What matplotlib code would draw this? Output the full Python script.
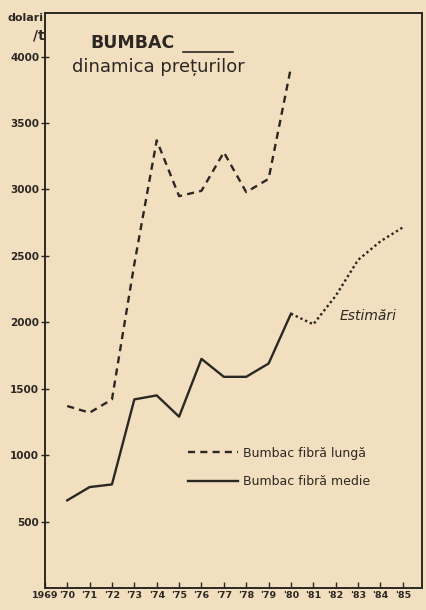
# -*- coding: utf-8 -*-
"""
Bumbac - dinamica preturilor (recreated chart)
"""
import numpy as np
import matplotlib.pyplot as plt

###############################################################################
# data:

years = np.arange(1969, 1986)
year_labels = ['1969'] + ["'%02d" % (y % 100) for y in years[1:]]

years_long = [1970, 1971, 1972, 1973, 1974, 1975, 1976, 1977, 1978, 1979, 1980]
price_long = [1370, 1320, 1420, 2440, 3370, 2950, 2990, 3280, 2980, 3080, 3920]

years_medium = [1970, 1971, 1972, 1973, 1974, 1975, 1976, 1977, 1978, 1979, 1980]
price_medium = [660, 760, 780, 1420, 1450, 1290, 1725, 1590, 1590, 1690, 2065]

years_estimate = [1980, 1981, 1982, 1983, 1984, 1985]
price_estimate = [2065, 1985, 2200, 2470, 2610, 2715]

y_ticks = [500, 1000, 1500, 2000, 2500, 3000, 3500, 4000]

###############################################################################
# style:

paper = '#f2dfc0'
ink = '#2b2722'

fig = plt.figure(figsize=(4.27, 6.10), dpi=100, facecolor=paper)
ax = fig.add_axes([0.105, 0.036, 0.883, 0.943])
ax.set_facecolor(paper)

###############################################################################
# plot:

ax.plot(years_long, price_long, color=ink, lw=1.7, ls=(0, (3.0, 2.2)),
        label='Bumbac fibră lungă')
ax.plot(years_medium, price_medium, color=ink, lw=1.7, ls='-',
        label='Bumbac fibră medie')
ax.plot(years_estimate, price_estimate, color=ink, lw=1.7, ls=(0, (1.0, 1.2)))

ax.set_xlim(1969, 1985.85)
ax.set_ylim(0, 4330)

for s in ax.spines.values():
    s.set_color(ink)
    s.set_linewidth(1.4)

ax.set_yticks(y_ticks)
ax.set_yticklabels([str(v) for v in y_ticks], fontsize=7.5, fontweight='bold',
                   color=ink)
ax.tick_params(axis='y', direction='inout', length=6, width=1.0, color=ink, pad=1)

ax.set_xticks(years)
ax.set_xticklabels(year_labels, fontsize=6.8, fontweight='bold', color=ink)
ax.tick_params(axis='x', direction='in', length=4, width=1.0, color=ink, pad=2)

# titles / notes:
fig.text(0.211, 0.914, 'BUMBAC', fontsize=12.5, fontweight='bold', color=ink,
         ha='left', va='bottom')
fig.add_artist(plt.Line2D([0.428, 0.545], [0.914, 0.914], color=ink, lw=1.2))
fig.text(0.168, 0.890, 'dinamica prețurilor', fontsize=13, color=ink,
         ha='left', va='center')
fig.text(0.06, 0.970, 'dolari', fontsize=8, fontweight='bold', color=ink,
         ha='center', va='center')
fig.text(0.092, 0.942, '/t', fontsize=10, fontweight='bold', color=ink,
         ha='center', va='center')
ax.text(1983.45, 2045, 'Estimări', fontsize=10, style='italic', color=ink,
        ha='center', va='center')

# legend:
leg = ax.legend(loc='upper left', bbox_to_anchor=(0.35, 0.265), frameon=False,
                handlelength=4.0, handletextpad=0.4, labelspacing=1.25,
                prop={'size': 9})
for t in leg.get_texts():
    t.set_color(ink)

plt.savefig('out.png', dpi=100, facecolor=paper)
